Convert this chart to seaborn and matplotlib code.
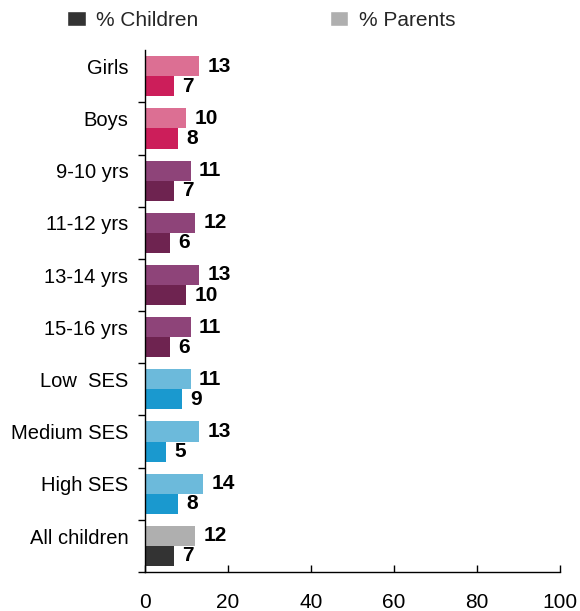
import matplotlib
matplotlib.use("Agg")
import matplotlib.pyplot as plt
import seaborn as sns
import pandas as pd
import numpy as np
from matplotlib.patches import Patch

categories = ["Girls", "Boys", "9-10 yrs", "11-12 yrs", "13-14 yrs", "15-16 yrs",
              "Low  SES", "Medium SES", "High SES", "All children"]
parents = [13, 10, 11, 12, 13, 11, 11, 13, 14, 12]
children = [7, 8, 7, 6, 10, 6, 9, 5, 8, 7]
series = ["% Parents", "% Children"]
xticks = [0, 20, 40, 60, 80, 100]

light_colors = ["#DC6F93", "#DC6F93", "#8E4479", "#8E4479", "#8E4479", "#8E4479",
                "#6CBADB", "#6CBADB", "#6CBADB", "#AFAFAF"]
dark_colors = ["#CC1E5A", "#CC1E5A", "#6E2350", "#6E2350", "#6E2350", "#6E2350",
               "#1A99CF", "#1A99CF", "#1A99CF", "#333333"]

sns.set_theme(style="white")
plt.rcParams["font.family"] = ["Liberation Sans", "DejaVu Sans"]

df = pd.DataFrame({
    "category": categories * 2,
    "series": [series[0]] * len(categories) + [series[1]] * len(categories),
    "value": parents + children,
})

fig = plt.figure(figsize=(5.8, 6.11), dpi=100)
ax = fig.add_axes([0.25, 0.0638, 0.7155, 0.854])

sns.barplot(data=df, y="category", x="value", hue="series", order=categories,
            hue_order=series, orient="h", dodge=True, width=0.77, ax=ax,
            legend=False, errorbar=None, saturation=1)

# recolor bars by group
for container, cols in zip(ax.containers, [light_colors, dark_colors]):
    for patch, c in zip(container.patches, cols):
        patch.set_facecolor(c)
        patch.set_edgecolor("none")
    ax.bar_label(container, fmt="%d", padding=6, fontsize=15, fontweight="bold",
                 color="black")

n = len(categories)
ax.set_xlim(0, 100)
ax.set_ylim(n - 0.5, -0.5)
ax.set_xticks(xticks)
ax.set_xticklabels([str(t) for t in xticks], fontsize=15)
ax.set_yticks(np.arange(n) - 0.19)
ax.set_yticklabels(categories, fontsize=14.5)
ax.set_yticks(np.arange(n) + 0.5, minor=True)
ax.tick_params(axis="y", which="major", length=0, pad=12, colors="black")
ax.tick_params(axis="y", which="minor", length=5, width=1, direction="out", color="black", left=True)
ax.tick_params(axis="x", which="major", length=5, width=1, direction="in", color="black",
               bottom=True, pad=15, labelcolor="black")
ax.set_xlabel("")
ax.set_ylabel("")
for s in ["top", "right"]:
    ax.spines[s].set_visible(False)
for s in ["left", "bottom"]:
    ax.spines[s].set_color("black")
    ax.spines[s].set_linewidth(1)

handles = [Patch(facecolor="#333333", label="% Children"),
           Patch(facecolor="#AFAFAF", label="% Parents")]
fig.legend(handles=handles, loc="upper left", bbox_to_anchor=(67 / 580, 1 - 11 / 611), ncol=2,
           frameon=False, fontsize=15, handlelength=0.9, handleheight=0.75,
           handletextpad=0.5, columnspacing=6.3, borderaxespad=0, borderpad=0)

fig.savefig("out.png", dpi=100)
